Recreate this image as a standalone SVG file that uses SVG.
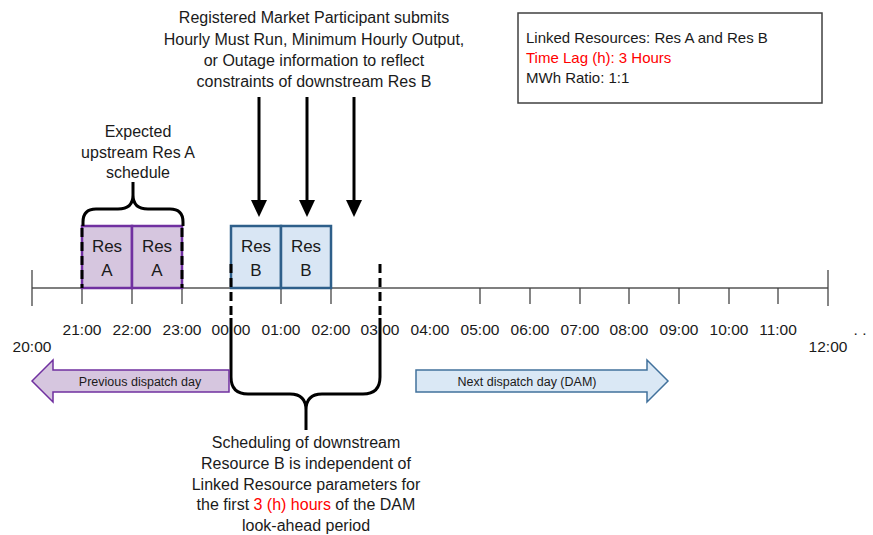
<svg xmlns="http://www.w3.org/2000/svg" width="873" height="535" viewBox="0 0 873 535">
<style>
text{font-family:"Liberation Sans",Arial,sans-serif;fill:#1a1a1a}
.t{font-size:16px;text-anchor:middle}
.h{font-size:15.5px;text-anchor:middle}
.r{font-size:17px;text-anchor:middle}
.s{font-size:12.5px;text-anchor:middle}
.red{fill:#ff0000}
.axis{stroke:#000;stroke-width:1.2;fill:none}
.tick{stroke:#444;stroke-width:1.3}
.brace{stroke:#000;stroke-width:3;fill:none;stroke-linejoin:round}
.dash{stroke:#000;stroke-width:3;stroke-dasharray:9,5;fill:none}
.resA{fill:#d6c6df;stroke:#7030a0;stroke-width:2.5}
.resB{fill:#d9e6f4;stroke:#2e5f8a;stroke-width:2.5}
.arr{stroke:#000;stroke-width:3}
</style>

<g id="info-box">
<rect x="518" y="13" width="304" height="90" fill="#fff" stroke="#404040" stroke-width="1.5"/>
<text x="526" y="43" font-size="15">Linked Resources: Res A and Res B</text>
<text x="526" y="63" font-size="15" class="red">Time Lag (h): 3 Hours</text>
<text x="526" y="83" font-size="15">MWh Ratio: 1:1</text>
</g>

<g id="top-note">
<text class="t" x="314" y="23">Registered Market Participant submits</text>
<text class="t" x="314" y="45">Hourly Must Run, Minimum Hourly Output,</text>
<text class="t" x="314" y="66">or Outage information to reflect</text>
<text class="t" x="314" y="87">constraints of downstream Res B</text>
</g>

<g id="resA-note">
<text class="t" x="138" y="137">Expected</text>
<text class="t" x="138" y="158">upstream Res A</text>
<text class="t" x="138" y="178">schedule</text>
</g>

<g id="timeline">
<line class="axis" x1="32" y1="288" x2="828" y2="288"/>
<line class="tick" x1="32" y1="270" x2="32" y2="306"/>
<line class="tick" x1="828" y1="270" x2="828" y2="306"/>
<g class="tick">
<line x1="82" y1="288" x2="82" y2="304"/>
<line x1="132" y1="288" x2="132" y2="304"/>
<line x1="182" y1="288" x2="182" y2="304"/>
<line x1="281" y1="288" x2="281" y2="304"/>
<line x1="331" y1="288" x2="331" y2="304"/>
<line x1="480" y1="288" x2="480" y2="304"/>
<line x1="530" y1="288" x2="530" y2="304"/>
<line x1="580" y1="288" x2="580" y2="304"/>
<line x1="629" y1="288" x2="629" y2="304"/>
<line x1="679" y1="288" x2="679" y2="304"/>
<line x1="729" y1="288" x2="729" y2="304"/>
<line x1="778" y1="288" x2="778" y2="304"/>
</g>
<text class="h" x="32" y="352">20:00</text>
<text class="h" x="82" y="335">21:00</text>
<text class="h" x="132" y="335">22:00</text>
<text class="h" x="182" y="335">23:00</text>
<text class="h" x="231" y="335">00:00</text>
<text class="h" x="281" y="335">01:00</text>
<text class="h" x="331" y="335">02:00</text>
<text class="h" x="380" y="335">03:00</text>
<text class="h" x="430" y="335">04:00</text>
<text class="h" x="480" y="335">05:00</text>
<text class="h" x="530" y="335">06:00</text>
<text class="h" x="580" y="335">07:00</text>
<text class="h" x="629" y="335">08:00</text>
<text class="h" x="679" y="335">09:00</text>
<text class="h" x="729" y="335">10:00</text>
<text class="h" x="778" y="335">11:00</text>
<text class="h" x="828" y="352">12:00</text>
<text class="h" x="860" y="335">. .</text>
</g>

<g id="resA">
<rect class="resA" x="82" y="226" width="50" height="62"/>
<rect class="resA" x="132" y="226" width="50" height="62"/>
<line class="dash" x1="82" y1="228" x2="82" y2="288"/>
<line class="dash" x1="182" y1="228" x2="182" y2="288"/>
<text class="r" x="107" y="252">Res</text>
<text class="r" x="107" y="276">A</text>
<text class="r" x="157" y="252">Res</text>
<text class="r" x="157" y="276">A</text>
</g>

<g id="resB">
<rect class="resB" x="231" y="226" width="50" height="62"/>
<rect class="resB" x="281" y="226" width="50" height="62"/>
<text class="r" x="256" y="252">Res</text>
<text class="r" x="256" y="276">B</text>
<text class="r" x="306" y="252">Res</text>
<text class="r" x="306" y="276">B</text>
</g>

<g id="brace-top">
<path class="brace" d="M83,226 L83,222 Q83,209 96,209 L118,209 Q133,209 133,195 L133,182 M133,195 Q133,209 148,209 L170,209 Q183,209 183,222 L183,226"/>
</g>

<g id="brace-bottom">
<line class="dash" x1="231" y1="264" x2="231" y2="318"/>
<line class="dash" x1="380" y1="264" x2="380" y2="318"/>
<path class="brace" d="M231,318 L231,377 Q231,394 248,394 L290,394 Q306,394 306,410 L306,430 M306,410 Q306,394 322,394 L363,394 Q380,394 380,377 L380,318"/>
</g>

<g id="bottom-note">
<text class="t" x="306" y="448">Scheduling of downstream</text>
<text class="t" x="306" y="469">Resource B is independent of</text>
<text class="t" x="306" y="490">Linked Resource parameters for</text>
<text class="t" x="306" y="510">the first <tspan class="red">3 (h) hours</tspan> of the DAM</text>
<text class="t" x="306" y="531">look-ahead period</text>
</g>

<g id="prev-day">
<path d="M32,381 L53,360 L53,370 L229,370 L229,392 L53,392 L53,402 Z" fill="#d6c6df" stroke="#7030a0" stroke-width="1.5"/>
<text class="s" x="140" y="386">Previous dispatch day</text>
</g>

<g id="next-day">
<path d="M416,370 L647,370 L647,360 L668,381 L647,402 L647,392 L416,392 Z" fill="#dae8f5" stroke="#41719c" stroke-width="1.5"/>
<text class="s" x="527" y="386">Next dispatch day (DAM)</text>
</g>

<g id="connectors">
<line class="arr" x1="259" y1="97" x2="259" y2="202"/>
<path d="M251,200 L267,200 L259,217 Z" fill="#000"/>
<line class="arr" x1="307" y1="97" x2="307" y2="202"/>
<path d="M299,200 L315,200 L307,217 Z" fill="#000"/>
<line class="arr" x1="354" y1="97" x2="354" y2="202"/>
<path d="M346,200 L362,200 L354,217 Z" fill="#000"/>
</g>
</svg>
